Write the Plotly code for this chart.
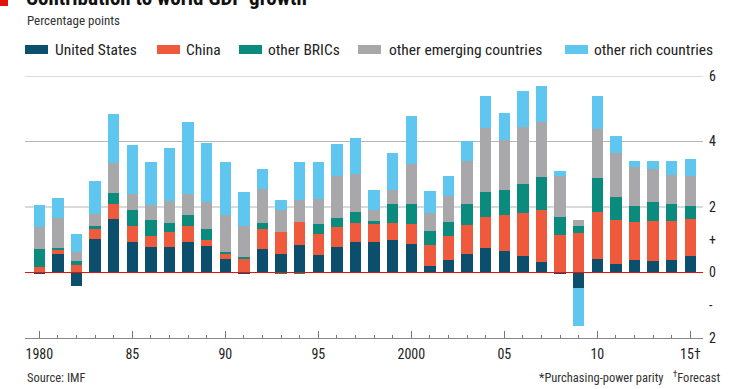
import plotly.graph_objects as go

years = list(range(1980, 2016))

united_states = [-0.05, 0.56, -0.42, 1.01, 1.62, 0.94, 0.79, 0.78, 0.94, 0.82,
                 0.41, -0.02, 0.71, 0.56, 0.83, 0.54, 0.78, 0.92, 0.92, 0.98,
                 0.86, 0.20, 0.37, 0.56, 0.76, 0.65, 0.50, 0.33, -0.03, -0.48,
                 0.42, 0.26, 0.37, 0.36, 0.37, 0.49]
china = [0.17, 0.14, 0.22, 0.31, 0.47, 0.47, 0.31, 0.45, 0.47, 0.17,
         0.17, 0.40, 0.63, 0.69, 0.71, 0.65, 0.61, 0.59, 0.55, 0.54,
         0.62, 0.63, 0.74, 0.88, 0.92, 1.10, 1.32, 1.59, 1.14, 1.21,
         1.43, 1.35, 1.17, 1.21, 1.21, 1.15]
other_brics = [0.56, 0.04, 0.14, 0.11, 0.34, 0.49, 0.49, 0.28, 0.36, 0.35,
               0.04, 0.07, 0.18, -0.06, -0.06, 0.30, 0.27, 0.33, 0.11, 0.58,
               0.62, 0.43, 0.43, 0.65, 0.79, 0.77, 0.88, 1.01, 0.57, 0.20,
               1.03, 0.69, 0.50, 0.58, 0.52, 0.38]
other_emerging = [0.66, 0.93, 0.26, 0.35, 0.92, 0.49, 0.48, 0.68, 0.64, 0.82,
                  1.14, 0.95, 1.04, 0.67, 0.68, 0.76, 1.29, 1.18, 0.32, 0.43,
                  1.20, 0.55, 0.80, 1.33, 1.93, 1.53, 1.73, 1.68, 1.23, 0.20,
                  1.50, 1.35, 1.18, 1.02, 0.88, 0.93]
other_rich = [0.68, 0.61, 0.56, 1.00, 1.48, 1.50, 1.30, 1.61, 2.18, 1.78,
              1.61, 1.03, 0.60, 0.29, 1.16, 1.11, 0.96, 1.10, 0.62, 1.11,
              1.49, 0.67, 0.60, 0.60, 0.99, 0.82, 1.10, 1.07, 0.16, -1.15,
              1.00, 0.52, 0.18, 0.23, 0.41, 0.51]

series_names = ["United States", "China", "other BRICs",
                "other emerging countries", "other rich countries"]
series_values = [united_states, china, other_brics, other_emerging, other_rich]
colors = ["#0b4f6c", "#ee5a3b", "#0b8a7e", "#a8a8aa", "#5ec6ef"]

x_tickvals = [1980, 1985, 1990, 1995, 2000, 2005, 2010, 2015]
x_ticktext = ["1980", "85", "90", "95", "2000", "05", "10", "15\u2020"]
y_tickvals = [-2, -1, 0, 1, 2, 4, 6]
y_ticktext = ["2", "-", "0", "+", "2", "4", "6"]

FONT = "Liberation Sans Narrow, Roboto Condensed, Roboto, Arial, sans-serif"

W, H = 740, 389
L, R, T, B = 25, 37, 76, 51
PW, PH = W - L - R, H - T - B


def px(xp):
    return (xp - L) / PW


def py(yp):
    return (H - B - yp) / PH


fig = go.Figure()
for name, vals, col in zip(series_names, series_values, colors):
    fig.add_trace(go.Bar(x=years, y=vals, name=name, marker_color=col,
                         marker_line_width=0, width=0.61, showlegend=False))

shapes = []
for g in [2, 4, 6]:
    shapes.append(dict(type="line", xref="paper", yref="y", x0=0, x1=1,
                       y0=g, y1=g, line=dict(color="#b5b5b5", width=1.2),
                       layer="below"))
shapes.append(dict(type="line", xref="paper", yref="y", x0=0, x1=1,
                   y0=0, y1=0, line=dict(color="#e3120b", width=1.2),
                   layer="above"))
shapes.append(dict(type="rect", xref="paper", yref="paper",
                   x0=px(0), x1=px(8), y0=py(6), y1=py(-5),
                   fillcolor="#e3120b", line_width=0))

annotations = []
# legend
legend_pos = [(25, 53), (157, 184), (239, 266), (358, 387), (565, 592)]
for (sx, tx), name, col in zip(legend_pos, series_names, colors):
    shapes.append(dict(type="rect", xref="paper", yref="paper",
                       x0=px(sx), x1=px(sx + 23), y0=py(54), y1=py(45),
                       fillcolor=col, line_width=0))
    annotations.append(dict(text=name, xref="paper", yref="paper",
                            x=px(tx), y=py(49.5), xanchor="left",
                            yanchor="middle", showarrow=False,
                            font=dict(size=15.5, color="#222", family=FONT)))

annotations += [
    dict(text="<b>Contribution to world GDP growth*</b>", xref="paper",
         yref="paper", x=px(24), y=py(-2), xanchor="left", yanchor="middle",
         showarrow=False, font=dict(size=21, color="#111", family=FONT)),
    dict(text="Percentage points", xref="paper", yref="paper", x=px(25),
         y=py(20.5), xanchor="left", yanchor="middle", showarrow=False,
         font=dict(size=13, color="#333", family=FONT)),
    dict(text="Source: IMF", xref="paper", yref="paper", x=px(25),
         y=py(377), xanchor="left", yanchor="middle", showarrow=False,
         font=dict(size=12.5, color="#333", family=FONT)),
    dict(text="*Purchasing-power parity", xref="paper", yref="paper",
         x=px(666), y=py(377), xanchor="right", yanchor="middle",
         showarrow=False, font=dict(size=12.5, color="#333", family=FONT)),
    dict(text="<sup>\u2020</sup>Forecast", xref="paper", yref="paper",
         x=px(671), y=py(377), xanchor="left", yanchor="middle",
         showarrow=False, font=dict(size=12.5, color="#333", family=FONT)),
]

fig.update_layout(
    width=W, height=H,
    margin=dict(l=L, r=R, t=T, b=B, pad=0),
    paper_bgcolor="white", plot_bgcolor="white",
    barmode="relative", bargap=0,
    font=dict(family=FONT, color="#222"),
    shapes=shapes, annotations=annotations,
    xaxis=dict(range=[1979.23, 2015.68], tickmode="array",
               tickvals=x_tickvals, ticktext=x_ticktext,
               ticks="inside", ticklen=7, tickcolor="#777", tickwidth=1,
               showline=True, linecolor="#888", linewidth=1.3,
               showgrid=False, zeroline=False, ticklabelstandoff=3,
               tickfont=dict(size=14, color="#222", family=FONT),
               minor=dict(tickmode="array", tickvals=years, ticks="inside",
                          ticklen=3, tickcolor="#777", showgrid=False)),
    yaxis=dict(range=[-2, 6], side="right", tickmode="array",
               tickvals=y_tickvals, ticktext=y_ticktext, ticks="",
               showgrid=False, zeroline=False, showline=False,
               ticklabelstandoff=5,
               tickfont=dict(size=14, color="#222", family=FONT)),
)

fig.write_html("out.html",
               config={"displayModeBar": False},
               post_script="document.body.style.margin='0px';"
                           "document.body.style.padding='0px';")
